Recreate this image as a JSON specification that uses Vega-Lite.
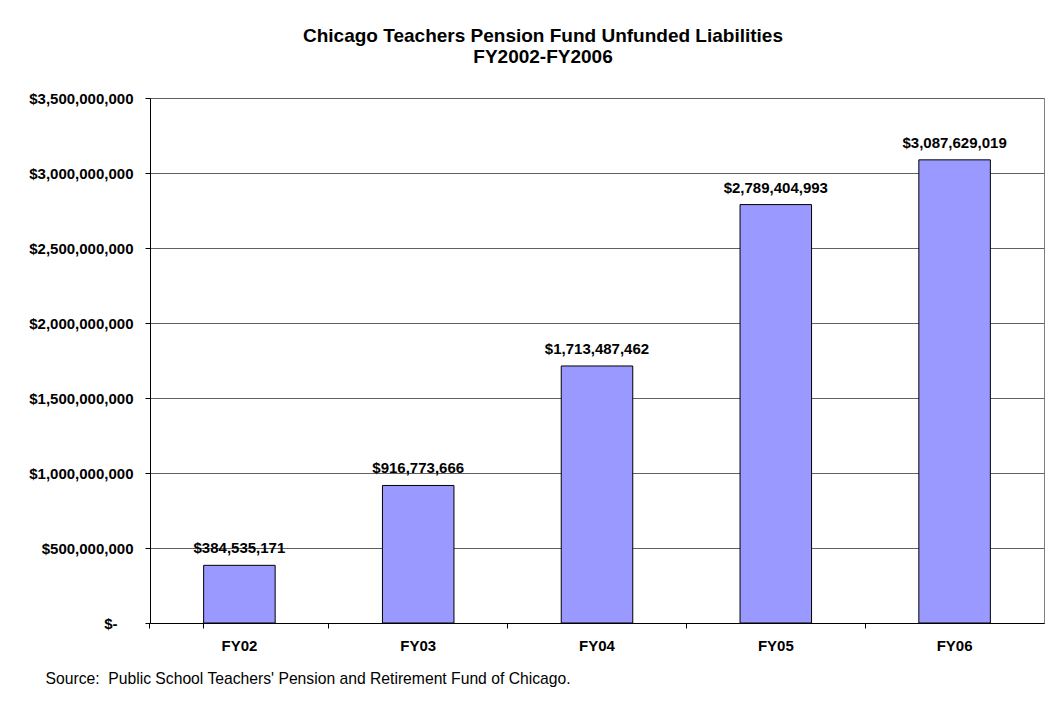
{
  "$schema": "https://vega.github.io/schema/vega-lite/v6.json",
  "width": 894,
  "height": 525,
  "autosize": {"type": "none"},
  "padding": {"left": 150, "top": 98, "right": 18, "bottom": 85},
  "background": "white",
  "title": {
    "text": ["Chicago Teachers Pension Fund Unfunded Liabilities", "FY2002-FY2006"],
    "font": "Liberation Sans",
    "fontSize": 19,
    "fontWeight": "bold",
    "color": "black",
    "anchor": "middle",
    "frame": "group",
    "dx": -54,
    "lineHeight": 21.5,
    "baseline": "alphabetic",
    "offset": 9
  },
  "config": {
    "font": "Liberation Sans",
    "view": {"stroke": "#808080", "strokeWidth": 1}
  },
  "data": {
    "values": [
      {"year": "FY02", "value": 384535171},
      {"year": "FY03", "value": 916773666},
      {"year": "FY04", "value": 1713487462},
      {"year": "FY05", "value": 2789404993},
      {"year": "FY06", "value": 3087629019}
    ]
  },
  "encoding": {
    "x": {
      "field": "year",
      "type": "nominal",
      "sort": null,
      "scale": {"paddingInner": 0.6, "paddingOuter": 0.3},
      "axis": {
        "title": "Source:\u00a0 Public School Teachers' Pension and Retirement Fund of Chicago.",
        "titleFont": "Liberation Sans",
        "titleFontSize": 15.7,
        "titleFontWeight": "normal",
        "titleColor": "black",
        "titleAnchor": "start",
        "titleAlign": "left",
        "titleBaseline": "alphabetic",
        "titleX": -105,
        "titleY": 60,
        "labelAngle": 0,
        "labelFontSize": 15,
        "labelFontWeight": "bold",
        "labelColor": "black",
        "labelPadding": 10,
        "bandPosition": -0.75,
        "tickExtra": true,
        "tickSize": 5,
        "tickColor": "black",
        "domainColor": "black",
        "grid": false
      }
    },
    "y": {
      "field": "value",
      "type": "quantitative",
      "scale": {"domain": [0, 3500000000], "nice": false},
      "axis": {
        "title": null,
        "values": [0, 500000000, 1000000000, 1500000000, 2000000000, 2500000000, 3000000000, 3500000000],
        "labelExpr": "datum.value == 0 ? '$-' : format(datum.value, '$,.0f')",
        "labelFontSize": 15,
        "labelFontWeight": "bold",
        "labelColor": "black",
        "labelPadding": {"condition": {"test": "datum.value == 0", "value": 28}, "value": 12},
        "tickSize": 5,
        "tickColor": "black",
        "domainColor": "black",
        "gridColor": "#606060",
        "gridWidth": 1
      }
    }
  },
  "layer": [
    {
      "mark": {"type": "bar", "fill": "#9999FF", "stroke": "black", "strokeWidth": 1}
    },
    {
      "mark": {"type": "text", "fontSize": 15, "fontWeight": "bold", "color": "black", "baseline": "alphabetic", "dy": -12},
      "encoding": {
        "text": {"field": "value", "type": "quantitative", "format": "$,.0f"}
      }
    }
  ]
}
